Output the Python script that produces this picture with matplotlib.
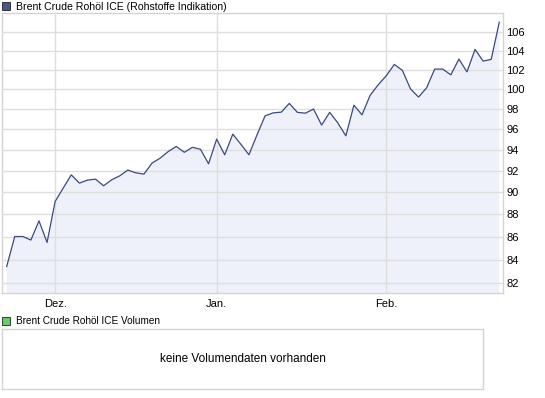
import matplotlib
matplotlib.use("Agg")
import matplotlib.pyplot as plt
from matplotlib.patches import Rectangle
from matplotlib.ticker import FixedLocator, FixedFormatter, NullLocator
import numpy as np

plt.rcParams["font.family"] = ["Liberation Sans", "DejaVu Sans"]

# daily closes, Brent Crude (index = trading session)
prices = [83.40, 86.00, 86.00, 85.69, 87.39, 85.48, 89.14, 90.37, 91.60, 90.83,
          91.11, 91.20, 90.58, 91.14, 91.51, 92.05, 91.79, 91.67, 92.71, 93.18,
          93.81, 94.30, 93.74, 94.22, 94.03, 92.64, 95.01, 93.50, 95.50, 94.51,
          93.50, 95.43, 97.30, 97.60, 97.67, 98.55, 97.65, 97.57, 97.98, 96.39,
          97.65, 96.61, 95.33, 98.37, 97.40, 99.36, 100.44, 101.37, 102.56, 101.94,
          100.03, 99.19, 100.13, 102.07, 102.07, 101.47, 103.12, 101.78, 104.15, 102.91,
          103.09, 107.09]
month_starts = [6, 26, 47]          # first session of Dec, Jan, Feb
month_labels = ["Dez.", "Jan.", "Feb."]
y_ticks = list(range(82, 107, 2))

title = "Brent Crude Rohöl ICE (Rohstoffe Indikation)"
vol_title = "Brent Crude Rohöl ICE Volumen"
vol_msg = "keine Volumendaten vorhanden"

LINE = "#3A4B7C"
FILL = "#EEF1FA"
GRID = "#DEDEDE"
EDGE = "#D4D4D4"
FS = 8

W, H = 545, 398
fig = plt.figure(figsize=(W / 100, H / 100), dpi=100)

def box(x0, y0, x1, y1):
    # pixel box (top-left origin) -> figure fraction rect
    return [x0 / W, 1 - y1 / H, (x1 - x0) / W, (y1 - y0) / H]

# ---- price panel
ax = fig.add_axes(box(2, 13, 503, 293))
x = np.arange(len(prices))
ax.set_yscale("log")
ax.set_ylim(81.17, 108.1)
ax.set_xlim(-0.58, 61.46)
ax.fill_between(x, prices, 60, color=FILL, lw=0, zorder=1)
ax.plot(x, prices, color=LINE, lw=0.9, zorder=3)

ax.yaxis.tick_right()
ax.yaxis.set_major_locator(FixedLocator(y_ticks))
ax.yaxis.set_major_formatter(FixedFormatter([str(t) for t in y_ticks]))
ax.yaxis.set_minor_locator(NullLocator())
ax.set_xticks(month_starts)
ax.set_xticklabels(month_labels)
ax.tick_params(axis="both", length=0, labelsize=FS, colors="black")
ax.tick_params(axis="y", pad=2.5)
ax.tick_params(axis="x", pad=4)
ax.grid(True, color=GRID, lw=1.0, zorder=2)
ax.set_axisbelow(False)
for s in ax.spines.values():
    s.set_color(EDGE)
    s.set_linewidth(1.0)

# ---- volume panel
axv = fig.add_axes(box(2, 329, 483, 389))
axv.set_xticks([]); axv.set_yticks([])
for s in axv.spines.values():
    s.set_color(EDGE)
    s.set_linewidth(1.0)
axv.text(0.5, 0.5, vol_msg, ha="center", va="center", fontsize=FS + 0.5,
         transform=axv.transAxes)

# ---- legend squares + titles
fig.add_artist(Rectangle((2 / W, 1 - 10 / H), 8 / W, 8 / H, transform=fig.transFigure,
                         fc="#44598A", ec="#222222", lw=0.6))
fig.text(16 / W, 1 - 6.5 / H, title, fontsize=7.6, va="center", ha="left")
fig.add_artist(Rectangle((2 / W, 1 - 325 / H), 8 / W, 8 / H, transform=fig.transFigure,
                         fc="#66CC66", ec="#222222", lw=0.6))
fig.text(16 / W, 1 - 321 / H, vol_title, fontsize=7.2, va="center", ha="left")

fig.savefig("out.png", dpi=100)
